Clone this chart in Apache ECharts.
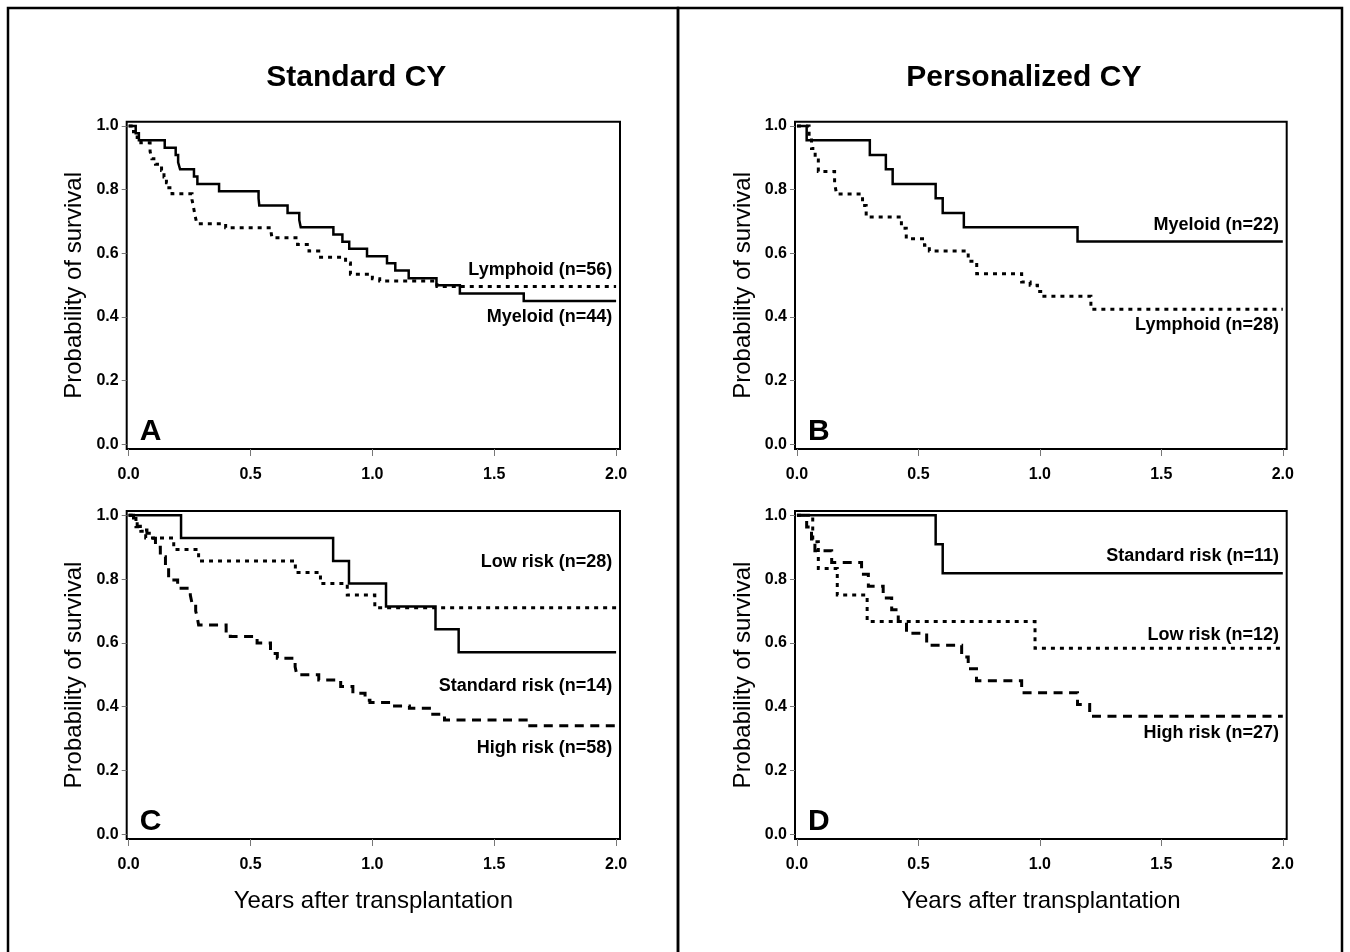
<!DOCTYPE html>
<html><head><meta charset="utf-8">
<script src="https://cdn.jsdelivr.net/npm/echarts@6/dist/echarts.min.js"></script>
<style>html,body{margin:0;padding:0;background:#fff}#c{width:1350px;height:952px}</style>
</head><body><div id="c"></div>
<script>
// ---- data (years, survival probability) ----
const xTicks = [0, 0.5, 1.0, 1.5, 2.0];
const yTicks = [0, 0.2, 0.4, 0.6, 0.8, 1.0];
const columnTitles = ['Standard CY', 'Personalized CY'];
const panelLetters = ['A', 'B', 'C', 'D'];

const aMyeloid = [[0,1],[0.029,0.977],[0.042,0.955],[0.148,0.932],[0.193,0.909],[0.203,0.886],[0.211,0.864],[0.268,0.841],[0.282,0.818],[0.371,0.795],[0.533,0.773],[0.536,0.75],[0.652,0.727],[0.7,0.705],[0.706,0.682],[0.84,0.659],[0.877,0.636],[0.905,0.614],[0.978,0.591],[1.06,0.569],[1.094,0.546],[1.149,0.522],[1.263,0.5],[1.359,0.474],[1.621,0.45],[2.0,0.45]];
const aLymphoid = [[0,1],[0.02,0.982],[0.035,0.964],[0.05,0.947],[0.088,0.92],[0.095,0.897],[0.11,0.88],[0.135,0.86],[0.145,0.84],[0.155,0.822],[0.165,0.806],[0.178,0.787],[0.26,0.768],[0.265,0.75],[0.272,0.72],[0.28,0.693],[0.398,0.68],[0.585,0.663],[0.588,0.649],[0.693,0.628],[0.74,0.607],[0.78,0.588],[0.89,0.57],[0.91,0.534],[1.0,0.52],[1.03,0.513],[1.265,0.496],[2.0,0.496]];

const bMyeloid = [[0,1],[0.04,0.955],[0.30,0.909],[0.366,0.864],[0.394,0.818],[0.571,0.773],[0.60,0.727],[0.687,0.682],[1.155,0.637],[2.0,0.637]];
const bLymphoid = [[0,1],[0.05,0.964],[0.06,0.929],[0.075,0.893],[0.088,0.857],[0.155,0.821],[0.163,0.786],[0.27,0.75],[0.285,0.714],[0.43,0.679],[0.45,0.646],[0.525,0.625],[0.545,0.607],[0.705,0.575],[0.74,0.536],[0.925,0.51],[0.96,0.5],[0.99,0.48],[1.01,0.465],[1.21,0.424],[2.0,0.424]];

const cStandard = [[0,1],[0.215,0.929],[0.839,0.857],[0.904,0.786],[1.056,0.714],[1.259,0.643],[1.354,0.571],[2.0,0.571]];
const cLow = [[0,1],[0.03,0.964],[0.05,0.95],[0.07,0.929],[0.185,0.893],[0.287,0.857],[0.684,0.821],[0.787,0.786],[0.897,0.75],[1.01,0.71],[2.0,0.71]];
const cHigh = [[0,1],[0.02,0.983],[0.035,0.966],[0.048,0.954],[0.075,0.944],[0.096,0.928],[0.11,0.9],[0.13,0.87],[0.151,0.84],[0.164,0.797],[0.201,0.771],[0.253,0.75],[0.26,0.724],[0.275,0.7],[0.281,0.682],[0.287,0.656],[0.40,0.63],[0.417,0.62],[0.527,0.6],[0.582,0.567],[0.61,0.552],[0.683,0.525],[0.69,0.5],[0.78,0.484],[0.87,0.463],[0.92,0.442],[0.97,0.42],[0.99,0.413],[1.083,0.402],[1.152,0.395],[1.234,0.376],[1.296,0.358],[1.631,0.34],[2.0,0.34]];

const dStandard = [[0,1],[0.571,0.909],[0.6,0.818],[2.0,0.818]];
const dLow = [[0,1],[0.065,0.917],[0.088,0.833],[0.166,0.75],[0.289,0.667],[0.98,0.583],[2.0,0.583]];
const dHigh = [[0,1],[0.04,0.963],[0.06,0.926],[0.074,0.889],[0.143,0.852],[0.266,0.815],[0.294,0.778],[0.355,0.741],[0.39,0.704],[0.417,0.667],[0.451,0.63],[0.534,0.593],[0.678,0.556],[0.705,0.519],[0.739,0.481],[0.925,0.444],[1.155,0.407],[1.205,0.37],[2.0,0.37]];

// curve labels: [panel, text, x anchor (right edge, years), y anchor (probability)]
const curveLabels = [
  [0, 'Lymphoid (n=56)', 1.984, 0.549],
  [0, 'Myeloid (n=44)', 1.984, 0.399],
  [1, 'Myeloid (n=22)', 1.984, 0.690],
  [1, 'Lymphoid (n=28)', 1.984, 0.374],
  [2, 'Low risk (n=28)', 1.984, 0.854],
  [2, 'Standard risk (n=14)', 1.984, 0.465],
  [2, 'High risk (n=58)', 1.984, 0.270],
  [3, 'Standard risk (n=11)', 1.984, 0.872],
  [3, 'Low risk (n=12)', 1.984, 0.625],
  [3, 'High risk (n=27)', 1.984, 0.318]
];

// ---- layout ----
const FONT = '"Liberation Sans", Arial, Helvetica, sans-serif';
const frames = [
  {left: 126.7, top: 121.7, width: 493.3, height: 327.3},
  {left: 795,   top: 121.7, width: 491.7, height: 327.3},
  {left: 126.7, top: 511,   width: 493.3, height: 328},
  {left: 795,   top: 511,   width: 491.7, height: 328}
];
const X_MIN = -0.008, X_MAX = 2.016, Y_MIN = -0.0147, Y_MAX = 1.0135;

const solid = {type: 'solid', width: 2.5};
const dotted = {type: [4, 5], width: 3};
const dashed = {type: [9, 6.5], width: 3};
const seriesDefs = [
  [0, aMyeloid, solid], [0, aLymphoid, dotted],
  [1, bMyeloid, solid], [1, bLymphoid, dotted],
  [2, cStandard, solid], [2, cLow, dotted], [2, cHigh, dashed],
  [3, dStandard, solid], [3, dLow, dotted], [3, dHigh, dashed]
];

const chart = echarts.init(document.getElementById('c'), null, {renderer: 'canvas'});

const grids = frames.map(f => ({
  left: f.left, top: f.top, width: f.width, height: f.height,
  show: true, borderColor: '#000', borderWidth: 2, backgroundColor: 'transparent', containLabel: false
}));
const tickStyle = {color: '#777', width: 1};
const xAxes = frames.map((f, i) => ({
  type: 'value', gridIndex: i, min: X_MIN, max: X_MAX,
  axisLine: {show: false, onZero: false},
  splitLine: {show: false},
  axisTick: {show: true, length: 7, lineStyle: tickStyle, customValues: xTicks},
  axisLabel: {customValues: xTicks, formatter: v => v.toFixed(1), margin: 18,
    fontSize: 16, fontWeight: 'bold', color: '#000', fontFamily: FONT},
  name: i >= 2 ? 'Years after transplantation' : '',
  nameLocation: 'middle', nameGap: 50,
  nameTextStyle: {fontSize: 24, color: '#000', fontFamily: FONT}
}));
const yAxes = frames.map((f, i) => ({
  type: 'value', gridIndex: i, min: Y_MIN, max: Y_MAX,
  axisLine: {show: false, onZero: false},
  splitLine: {show: false},
  axisTick: {show: true, length: 5, lineStyle: tickStyle, customValues: yTicks},
  axisLabel: {customValues: yTicks, formatter: v => v.toFixed(1), margin: 8,
    fontSize: 16, fontWeight: 'bold', color: '#000', fontFamily: FONT},
  name: 'Probability of survival',
  nameLocation: 'middle', nameGap: 40, nameRotate: 90,
  nameTextStyle: {fontSize: 24, color: '#000', fontFamily: FONT}
}));
const series = seriesDefs.map(([p, data, ls]) => ({
  type: 'line', xAxisIndex: p, yAxisIndex: p, data: data, step: 'end',
  symbol: 'none', clip: true, silent: true,
  lineStyle: Object.assign({color: '#000', cap: 'butt', join: 'miter'}, ls)
}));

chart.setOption({
  animation: false,
  backgroundColor: '#fff',
  grid: grids, xAxis: xAxes, yAxis: yAxes, series: series
});

// ---- text overlays ----
const g = [];
// outer boxes
g.push({type: 'rect', shape: {x: 8, y: 8, width: 670, height: 960},
  style: {fill: 'none', stroke: '#000', lineWidth: 2.5}, z: 0});
g.push({type: 'rect', shape: {x: 678, y: 8, width: 664, height: 960},
  style: {fill: 'none', stroke: '#000', lineWidth: 2.5}, z: 0});
// column titles
columnTitles.forEach((t, c) => {
  const f = frames[c];
  g.push({type: 'text', x: f.left + f.width / 2 - 17, y: 78, z: 10,
    style: {text: t, font: 'bold 30px ' + FONT, fill: '#000',
      align: 'center', verticalAlign: 'middle', textAlign: 'center', textVerticalAlign: 'middle'}});
});
// panel letters
panelLetters.forEach((t, i) => {
  const f = frames[i];
  g.push({type: 'text', x: f.left + 13, y: f.top + f.height - 17, z: 10,
    style: {text: t, font: 'bold 30px ' + FONT, fill: '#000',
      align: 'left', verticalAlign: 'middle', textAlign: 'left', textVerticalAlign: 'middle'}});
});
// curve labels anchored in data coordinates
curveLabels.forEach(([p, t, xv, yv]) => {
  const pt = chart.convertToPixel({gridIndex: p}, [xv, yv]);
  g.push({type: 'text', x: pt[0], y: pt[1], z: 10,
    style: {text: t, font: 'bold 18px ' + FONT, fill: '#000',
      align: 'right', verticalAlign: 'middle', textAlign: 'right', textVerticalAlign: 'middle'}});
});
chart.setOption({graphic: {elements: g}});
</script>
</body></html>
